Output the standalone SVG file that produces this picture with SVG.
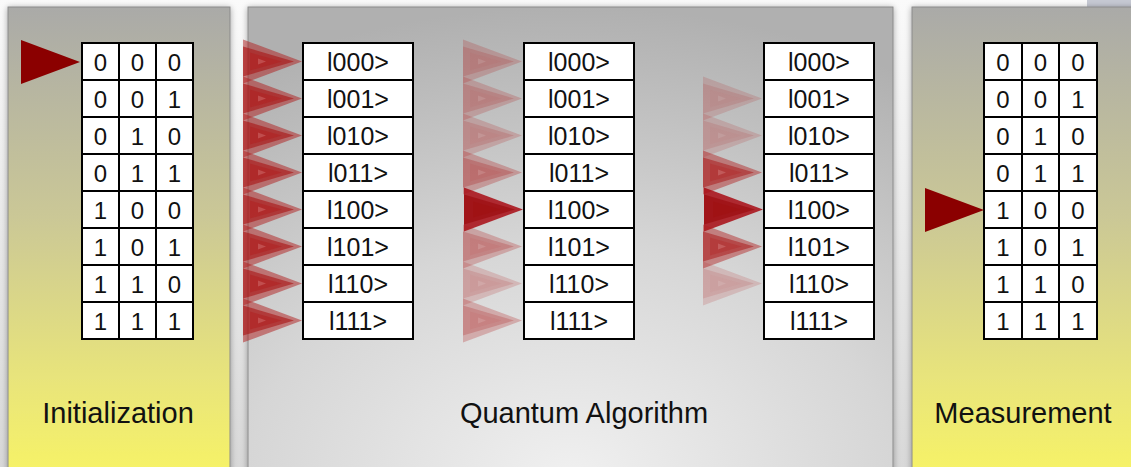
<svg xmlns="http://www.w3.org/2000/svg" xmlns:xlink="http://www.w3.org/1999/xlink" width="1131" height="467" viewBox="0 0 1131 467">
  <defs>
    <linearGradient id="bg" x1="0" y1="0" x2="0" y2="1">
      <stop offset="0" stop-color="#fafafa"/>
      <stop offset="1" stop-color="#d8d8d8"/>
    </linearGradient>
    <linearGradient id="yellowPanel" x1="0" y1="0" x2="0" y2="1">
      <stop offset="0" stop-color="#aaaaa8"/>
      <stop offset="0.45" stop-color="#cbc896"/>
      <stop offset="0.8" stop-color="#e9e57a"/>
      <stop offset="1" stop-color="#f7f366"/>
    </linearGradient>
    <radialGradient id="grayPanel" cx="0.5" cy="1" r="1" fx="0.5" fy="1">
      <stop offset="0" stop-color="#f0f0f0"/>
      <stop offset="0.5" stop-color="#d6d6d6"/>
      <stop offset="1" stop-color="#b0b0b0"/>
    </radialGradient>
    <filter id="shadow" x="-10%" y="-10%" width="120%" height="120%">
      <feGaussianBlur in="SourceAlpha" stdDeviation="3"/>
      <feOffset dx="0" dy="1" result="b"/>
      <feComponentTransfer><feFuncA type="linear" slope="0.35"/></feComponentTransfer>
      <feMerge><feMergeNode/><feMergeNode in="SourceGraphic"/></feMerge>
    </filter>
    <!-- translucent amplitude arrow, tip at (0,0) -->
    <g id="glow">
      <path d="M-59,-22 L0,0 L-59,22 Z" fill="#b01c1c" fill-opacity="0.5"/>
      <path d="M-59,-15 L-8,0 L-59,15 Z" fill="#a81212" fill-opacity="0.6"/>
      <path d="M-52,-9 L-20,0 L-52,9 Z" fill="#b02020" fill-opacity="0.55"/>
      <path d="M-44,-3 L-36,0 L-44,3 Z" fill="#e09090" fill-opacity="0.35"/>
    </g>
    <g id="glowStrong">
      <path d="M-59,-22 L0,0 L-59,22 Z" fill="#a80c14" fill-opacity="0.85"/>
      <path d="M-59,-15 L-8,0 L-59,15 Z" fill="#9a0a0e" fill-opacity="0.65"/>
      <path d="M-50,-8 L-22,0 L-50,8 Z" fill="#a01010" fill-opacity="0.5"/>
    </g>
    <path id="pointer" d="M-59,-22 L0,0 L-59,22 Z" fill="#8b0000"/>
  </defs>
  <style>
    .panel { stroke: #8a8a8a; stroke-width: 1; }
    .cell { fill: #ffffff; stroke: #000000; stroke-width: 2; }
    .bit { font-family: "Liberation Sans", Arial, sans-serif; font-size: 24px; fill: #111111; text-anchor: middle; }
    .ket { font-family: "Liberation Sans", Arial, sans-serif; font-size: 25px; fill: #111111; text-anchor: middle; }
    .title { font-family: "Liberation Sans", Arial, sans-serif; font-size: 29px; fill: #111111; text-anchor: middle; }
  </style>

  <rect x="0" y="0" width="1131" height="467" fill="url(#bg)"/>
  <rect x="1087" y="0" width="44" height="8" fill="#c6c9d3"/>

  <!-- stage panels -->
  <g id="panel-init">
    <rect class="panel" x="8" y="7" width="222" height="470" fill="url(#yellowPanel)" filter="url(#shadow)"/>
    <text class="title" x="118" y="423">Initialization</text>
  </g>
  <g id="panel-algorithm">
    <rect class="panel" x="248" y="7" width="645" height="470" fill="url(#grayPanel)" filter="url(#shadow)"/>
    <text class="title" x="584" y="423">Quantum Algorithm</text>
  </g>
  <g id="panel-measure">
    <rect class="panel" x="912" y="7" width="230" height="470" fill="url(#yellowPanel)" filter="url(#shadow)"/>
    <text class="title" x="1023" y="423">Measurement</text>
  </g>

  <!-- classical register: initial state -->
  <g id="register-init">
    <g>
      <rect class="cell" x="82" y="43" width="37" height="37"/><rect class="cell" x="119" y="43" width="37" height="37"/><rect class="cell" x="156" y="43" width="37" height="37"/>
      <rect class="cell" x="82" y="80" width="37" height="37"/><rect class="cell" x="119" y="80" width="37" height="37"/><rect class="cell" x="156" y="80" width="37" height="37"/>
      <rect class="cell" x="82" y="117" width="37" height="37"/><rect class="cell" x="119" y="117" width="37" height="37"/><rect class="cell" x="156" y="117" width="37" height="37"/>
      <rect class="cell" x="82" y="154" width="37" height="37"/><rect class="cell" x="119" y="154" width="37" height="37"/><rect class="cell" x="156" y="154" width="37" height="37"/>
      <rect class="cell" x="82" y="191" width="37" height="37"/><rect class="cell" x="119" y="191" width="37" height="37"/><rect class="cell" x="156" y="191" width="37" height="37"/>
      <rect class="cell" x="82" y="228" width="37" height="37"/><rect class="cell" x="119" y="228" width="37" height="37"/><rect class="cell" x="156" y="228" width="37" height="37"/>
      <rect class="cell" x="82" y="265" width="37" height="37"/><rect class="cell" x="119" y="265" width="37" height="37"/><rect class="cell" x="156" y="265" width="37" height="37"/>
      <rect class="cell" x="82" y="302" width="37" height="37"/><rect class="cell" x="119" y="302" width="37" height="37"/><rect class="cell" x="156" y="302" width="37" height="37"/>
    </g>
    <g>
      <text class="bit" x="100.5" y="71">0</text><text class="bit" x="137.5" y="71">0</text><text class="bit" x="174.5" y="71">0</text>
      <text class="bit" x="100.5" y="108">0</text><text class="bit" x="137.5" y="108">0</text><text class="bit" x="174.5" y="108">1</text>
      <text class="bit" x="100.5" y="145">0</text><text class="bit" x="137.5" y="145">1</text><text class="bit" x="174.5" y="145">0</text>
      <text class="bit" x="100.5" y="182">0</text><text class="bit" x="137.5" y="182">1</text><text class="bit" x="174.5" y="182">1</text>
      <text class="bit" x="100.5" y="219">1</text><text class="bit" x="137.5" y="219">0</text><text class="bit" x="174.5" y="219">0</text>
      <text class="bit" x="100.5" y="256">1</text><text class="bit" x="137.5" y="256">0</text><text class="bit" x="174.5" y="256">1</text>
      <text class="bit" x="100.5" y="293">1</text><text class="bit" x="137.5" y="293">1</text><text class="bit" x="174.5" y="293">0</text>
      <text class="bit" x="100.5" y="330">1</text><text class="bit" x="137.5" y="330">1</text><text class="bit" x="174.5" y="330">1</text>
    </g>
  </g>

  <!-- classical register: measured state -->
  <g id="register-measure">
    <g>
      <rect class="cell" x="984" y="43" width="38" height="37"/><rect class="cell" x="1022" y="43" width="37" height="37"/><rect class="cell" x="1059" y="43" width="38" height="37"/>
      <rect class="cell" x="984" y="80" width="38" height="37"/><rect class="cell" x="1022" y="80" width="37" height="37"/><rect class="cell" x="1059" y="80" width="38" height="37"/>
      <rect class="cell" x="984" y="117" width="38" height="37"/><rect class="cell" x="1022" y="117" width="37" height="37"/><rect class="cell" x="1059" y="117" width="38" height="37"/>
      <rect class="cell" x="984" y="154" width="38" height="37"/><rect class="cell" x="1022" y="154" width="37" height="37"/><rect class="cell" x="1059" y="154" width="38" height="37"/>
      <rect class="cell" x="984" y="191" width="38" height="37"/><rect class="cell" x="1022" y="191" width="37" height="37"/><rect class="cell" x="1059" y="191" width="38" height="37"/>
      <rect class="cell" x="984" y="228" width="38" height="37"/><rect class="cell" x="1022" y="228" width="37" height="37"/><rect class="cell" x="1059" y="228" width="38" height="37"/>
      <rect class="cell" x="984" y="265" width="38" height="37"/><rect class="cell" x="1022" y="265" width="37" height="37"/><rect class="cell" x="1059" y="265" width="38" height="37"/>
      <rect class="cell" x="984" y="302" width="38" height="37"/><rect class="cell" x="1022" y="302" width="37" height="37"/><rect class="cell" x="1059" y="302" width="38" height="37"/>
    </g>
    <g>
      <text class="bit" x="1003" y="71">0</text><text class="bit" x="1040.5" y="71">0</text><text class="bit" x="1078" y="71">0</text>
      <text class="bit" x="1003" y="108">0</text><text class="bit" x="1040.5" y="108">0</text><text class="bit" x="1078" y="108">1</text>
      <text class="bit" x="1003" y="145">0</text><text class="bit" x="1040.5" y="145">1</text><text class="bit" x="1078" y="145">0</text>
      <text class="bit" x="1003" y="182">0</text><text class="bit" x="1040.5" y="182">1</text><text class="bit" x="1078" y="182">1</text>
      <text class="bit" x="1003" y="219">1</text><text class="bit" x="1040.5" y="219">0</text><text class="bit" x="1078" y="219">0</text>
      <text class="bit" x="1003" y="256">1</text><text class="bit" x="1040.5" y="256">0</text><text class="bit" x="1078" y="256">1</text>
      <text class="bit" x="1003" y="293">1</text><text class="bit" x="1040.5" y="293">1</text><text class="bit" x="1078" y="293">0</text>
      <text class="bit" x="1003" y="330">1</text><text class="bit" x="1040.5" y="330">1</text><text class="bit" x="1078" y="330">1</text>
    </g>
  </g>

  <!-- quantum registers (three time steps) -->
  <g id="register-q1">
    <rect class="cell" x="303" y="43" width="110" height="37"/><rect class="cell" x="303" y="80" width="110" height="37"/>
    <rect class="cell" x="303" y="117" width="110" height="37"/><rect class="cell" x="303" y="154" width="110" height="37"/>
    <rect class="cell" x="303" y="191" width="110" height="37"/><rect class="cell" x="303" y="228" width="110" height="37"/>
    <rect class="cell" x="303" y="265" width="110" height="37"/><rect class="cell" x="303" y="302" width="110" height="37"/>
    <text class="ket" x="358" y="71">l000&gt;</text><text class="ket" x="358" y="108">l001&gt;</text>
    <text class="ket" x="358" y="145">l010&gt;</text><text class="ket" x="358" y="182">l011&gt;</text>
    <text class="ket" x="358" y="219">l100&gt;</text><text class="ket" x="358" y="256">l101&gt;</text>
    <text class="ket" x="358" y="293">l110&gt;</text><text class="ket" x="358" y="330">l111&gt;</text>
  </g>
  <g id="register-q2">
    <rect class="cell" x="524" y="43" width="110" height="37"/><rect class="cell" x="524" y="80" width="110" height="37"/>
    <rect class="cell" x="524" y="117" width="110" height="37"/><rect class="cell" x="524" y="154" width="110" height="37"/>
    <rect class="cell" x="524" y="191" width="110" height="37"/><rect class="cell" x="524" y="228" width="110" height="37"/>
    <rect class="cell" x="524" y="265" width="110" height="37"/><rect class="cell" x="524" y="302" width="110" height="37"/>
    <text class="ket" x="579" y="71">l000&gt;</text><text class="ket" x="579" y="108">l001&gt;</text>
    <text class="ket" x="579" y="145">l010&gt;</text><text class="ket" x="579" y="182">l011&gt;</text>
    <text class="ket" x="579" y="219">l100&gt;</text><text class="ket" x="579" y="256">l101&gt;</text>
    <text class="ket" x="579" y="293">l110&gt;</text><text class="ket" x="579" y="330">l111&gt;</text>
  </g>
  <g id="register-q3">
    <rect class="cell" x="764" y="43" width="110" height="37"/><rect class="cell" x="764" y="80" width="110" height="37"/>
    <rect class="cell" x="764" y="117" width="110" height="37"/><rect class="cell" x="764" y="154" width="110" height="37"/>
    <rect class="cell" x="764" y="191" width="110" height="37"/><rect class="cell" x="764" y="228" width="110" height="37"/>
    <rect class="cell" x="764" y="265" width="110" height="37"/><rect class="cell" x="764" y="302" width="110" height="37"/>
    <text class="ket" x="819" y="71">l000&gt;</text><text class="ket" x="819" y="108">l001&gt;</text>
    <text class="ket" x="819" y="145">l010&gt;</text><text class="ket" x="819" y="182">l011&gt;</text>
    <text class="ket" x="819" y="219">l100&gt;</text><text class="ket" x="819" y="256">l101&gt;</text>
    <text class="ket" x="819" y="293">l110&gt;</text><text class="ket" x="819" y="330">l111&gt;</text>
  </g>

  <!-- state pointers / amplitude arrows -->
  <g id="connectors">
    <use href="#pointer" x="80" y="62"/>
    <use href="#pointer" x="984" y="210"/>

    <g id="amp-q1">
      <use href="#glow" x="302" y="61.5"/>
      <use href="#glow" x="302" y="98.5"/>
      <use href="#glow" x="302" y="135.5"/>
      <use href="#glow" x="302" y="172.5"/>
      <use href="#glow" x="302" y="209.5"/>
      <use href="#glow" x="302" y="246.5"/>
      <use href="#glow" x="302" y="283.5"/>
      <use href="#glow" x="302" y="320.5"/>
    </g>
    <g id="amp-q2">
      <use href="#glow" x="522" y="61.5" opacity="0.42"/>
      <use href="#glow" x="522" y="98.5" opacity="0.42"/>
      <use href="#glow" x="522" y="135.5" opacity="0.4"/>
      <use href="#glow" x="522" y="172.5" opacity="0.58"/>
      <use href="#glowStrong" x="523" y="209.5"/>
      <use href="#glow" x="522" y="246.5" opacity="0.52"/>
      <use href="#glow" x="522" y="283.5" opacity="0.36"/>
      <use href="#glow" x="522" y="320.5" opacity="0.52"/>
    </g>
    <g id="amp-q3">
      <use href="#glow" x="762" y="98.5" opacity="0.32"/>
      <use href="#glow" x="762" y="135.5" opacity="0.32"/>
      <use href="#glow" x="762" y="172.5" opacity="0.9"/>
      <use href="#glowStrong" x="763" y="209.5"/>
      <use href="#glow" x="762" y="246.5" opacity="0.9"/>
      <use href="#glow" x="762" y="283.5" opacity="0.32"/>
    </g>
  </g>
</svg>
